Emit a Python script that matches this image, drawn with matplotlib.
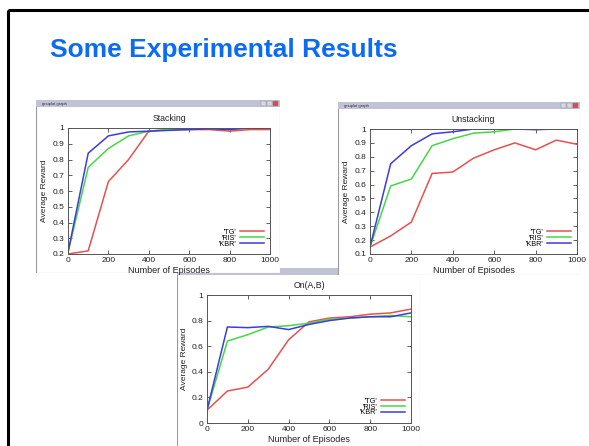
import numpy as np
import matplotlib
matplotlib.use('Agg')
import matplotlib.pyplot as plt
from matplotlib.patches import Rectangle

plt.rcParams['font.family'] = ['Liberation Sans', 'DejaVu Sans']

episodes = [0, 100, 200, 300, 400, 500, 600, 700, 800, 900, 1000]
labels = ["'TG'", "'RIS'", "'KBR'"]
colors = ['#e85050', '#44d844', '#3c3cdc']

stack_tg = [0.20, 0.22, 0.66, 0.80, 0.98, 0.99, 0.99, 0.99, 0.98, 0.99, 0.99]
stack_ris = [0.21, 0.75, 0.87, 0.95, 0.98, 0.99, 1.0, 1.0, 1.0, 1.0, 1.0]
stack_kbr = [0.21, 0.84, 0.95, 0.975, 0.98, 0.985, 0.99, 0.995, 0.99, 1.0, 1.0]

unstack_tg = [0.15, 0.23, 0.33, 0.68, 0.69, 0.79, 0.85, 0.90, 0.85, 0.92, 0.89]
unstack_ris = [0.15, 0.59, 0.64, 0.88, 0.93, 0.97, 0.98, 1.0, 1.0, 1.0, 1.0]
unstack_kbr = [0.15, 0.75, 0.88, 0.965, 0.98, 1.0, 1.0, 1.0, 0.995, 1.0, 1.0]

on_tg = [0.10, 0.25, 0.28, 0.42, 0.65, 0.79, 0.82, 0.83, 0.85, 0.86, 0.89]
on_ris = [0.10, 0.64, 0.69, 0.75, 0.76, 0.78, 0.81, 0.82, 0.83, 0.84, 0.83]
on_kbr = [0.10, 0.75, 0.745, 0.755, 0.73, 0.77, 0.80, 0.82, 0.83, 0.83, 0.86]

W, H = 589, 446
fig = plt.figure(figsize=(W / 100, H / 100), dpi=100)


def box(x0, y0, x1, y1):
    # pixel box (top-left origin) -> figure fraction
    return [x0 / W, 1 - y1 / H, (x1 - x0) / W, (y1 - y0) / H]


# slide background, border and heading
bg = fig.add_axes([0, 0, 1, 1])
bg.set_xlim(0, W)
bg.set_ylim(H, 0)
bg.axis('off')
bg.add_patch(Rectangle((7.5, 9.5), 620, 480, fill=False, edgecolor='black', lw=2.2))
bg.text(50, 57, 'Some Experimental Results', color='#0a6cf5', fontsize=19,
        fontweight='bold', va='baseline')


def window(frame, plot_box, title, series, yticks, caption=True):
    x0, y0, x1, y1 = frame
    wa = fig.add_axes(box(*frame))
    wa.set_xlim(x0, x1)
    wa.set_ylim(y1, y0)
    wa.axis('off')
    wa.add_patch(Rectangle((x0, y0), x1 - x0, y1 - y0, facecolor='white',
                           edgecolor='#9a9a9a', lw=0.8))
    wa.add_patch(Rectangle((x0, y0), x1 - x0, 7, facecolor='#c2c2d6', edgecolor='none'))
    if caption:
        wa.text(x0 + 6, y0 + 3.6, 'gnuplot graph', fontsize=3, va='center', color='#333333')
        for i, c in enumerate(['#d8d8e4', '#d8d8e4', '#e04848']):
            wa.add_patch(Rectangle((x1 - 19 + i * 6, y0 + 1.2), 5, 4.6, facecolor=c,
                                   edgecolor='#888888', lw=0.3))

    ax = fig.add_axes(box(*plot_box))
    for vals, lab, c in zip(series, labels, colors):
        ax.plot(episodes, vals, color=c, lw=1.1, label=lab)
    ax.set_xlim(0, 1000)
    ax.set_xticks(range(0, 1001, 200))
    ax.set_ylim(yticks[0], yticks[-1])
    ax.set_yticks(yticks)
    ax.set_yticklabels([f'{v:g}' for v in yticks])
    ax.tick_params(direction='in', length=3, width=0.5, top=True, right=True,
                   labelsize=6, pad=2.5, colors='#222222')
    for s in ax.spines.values():
        s.set_color('#555555')
        s.set_linewidth(0.7)
    ax.set_title(title, fontsize=6.3, pad=5, color='#222222')
    ax.set_xlabel('Number of Episodes', fontsize=6.5, labelpad=1, color='#222222')
    ax.set_ylabel('Average Reward', fontsize=6, labelpad=3, color='#222222')
    ax.legend(loc='lower right', frameon=False, markerfirst=False, fontsize=5.2,
              handlelength=3.2, handletextpad=0.5, labelspacing=-0.15,
              borderaxespad=0.5)
    return ax


# bottom window sits behind the top two, its caption bar is mostly hidden
window((177, 268, 420, 452), (207, 295, 411, 423), 'On(A,B)',
       [on_tg, on_ris, on_kbr], [0, 0.2, 0.4, 0.6, 0.8, 1], caption=False)
window((36, 100, 280, 273), (68, 128, 270, 254), 'Stacking',
       [stack_tg, stack_ris, stack_kbr], [0.2, 0.3, 0.4, 0.5, 0.6, 0.7, 0.8, 0.9, 1])
window((338, 102, 580, 275), (370, 129, 577, 254), 'Unstacking',
       [unstack_tg, unstack_ris, unstack_kbr],
       [0.1, 0.2, 0.3, 0.4, 0.5, 0.6, 0.7, 0.8, 0.9, 1])

fig.savefig('out.png', dpi=100)
